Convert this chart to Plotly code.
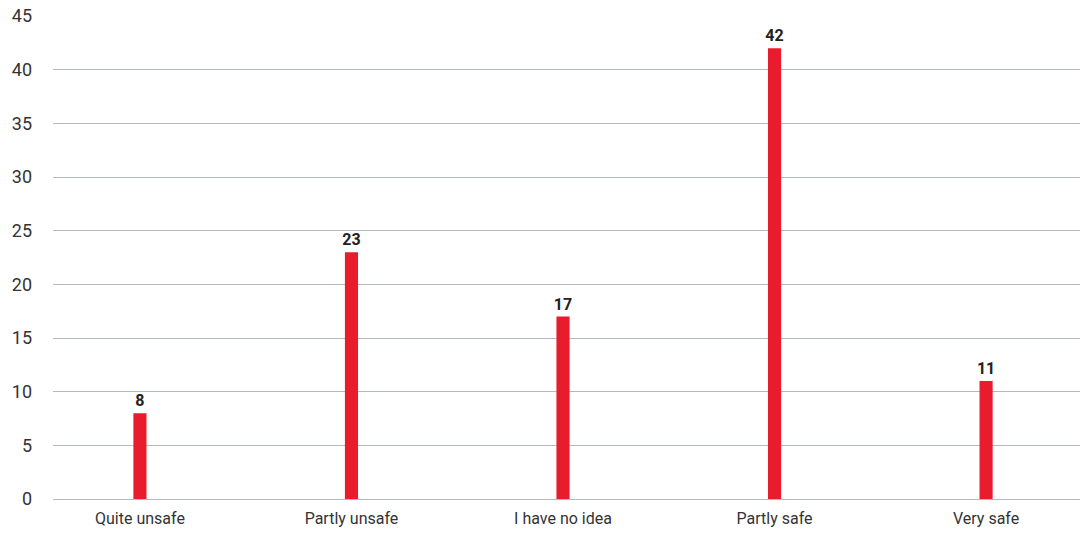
import plotly.graph_objects as go

categories = ["Quite unsafe", "Partly unsafe", "I have no idea", "Partly safe", "Very safe"]
values = [8, 23, 17, 42, 11]
y_ticks = [0, 5, 10, 15, 20, 25, 30, 35, 40, 45]

BAR_RED = "#e91c2e"
GRID = "#b4b8c0"
FONT = "Roboto, 'Open Sans', sans-serif"

fig = go.Figure(
    go.Bar(
        x=list(range(len(categories))),
        y=values,
        width=0.062,
        marker=dict(color=BAR_RED, line=dict(width=0)),
        text=[str(v) for v in values],
        textposition="outside",
        constraintext="none",
        textfont=dict(family=FONT, size=16, color="#222222", weight="bold"),
        cliponaxis=False,
    )
)

fig.update_layout(
    width=1085,
    height=536,
    margin=dict(l=53, r=5, t=16, b=37),
    paper_bgcolor="white",
    plot_bgcolor="white",
    showlegend=False,
    font=dict(family=FONT, color="#333333"),
    xaxis=dict(
        range=[-0.411, 4.444],
        tickmode="array",
        tickvals=list(range(len(categories))),
        ticktext=categories,
        tickfont=dict(size=16, color="#333333"),
        showgrid=False,
        zeroline=False,
        showline=False,
        ticks="",
        ticklabelstandoff=8,
    ),
    yaxis=dict(
        range=[0, 45],
        tickmode="array",
        tickvals=y_ticks,
        ticktext=[str(t) for t in y_ticks],
        tickfont=dict(size=18, color="#333333"),
        showgrid=True,
        gridcolor=GRID,
        gridwidth=1,
        zeroline=True,
        zerolinecolor=GRID,
        zerolinewidth=1,
        showline=False,
        ticks="",
        ticklabelstandoff=20,
    ),
)

fig.write_html("out.html")
